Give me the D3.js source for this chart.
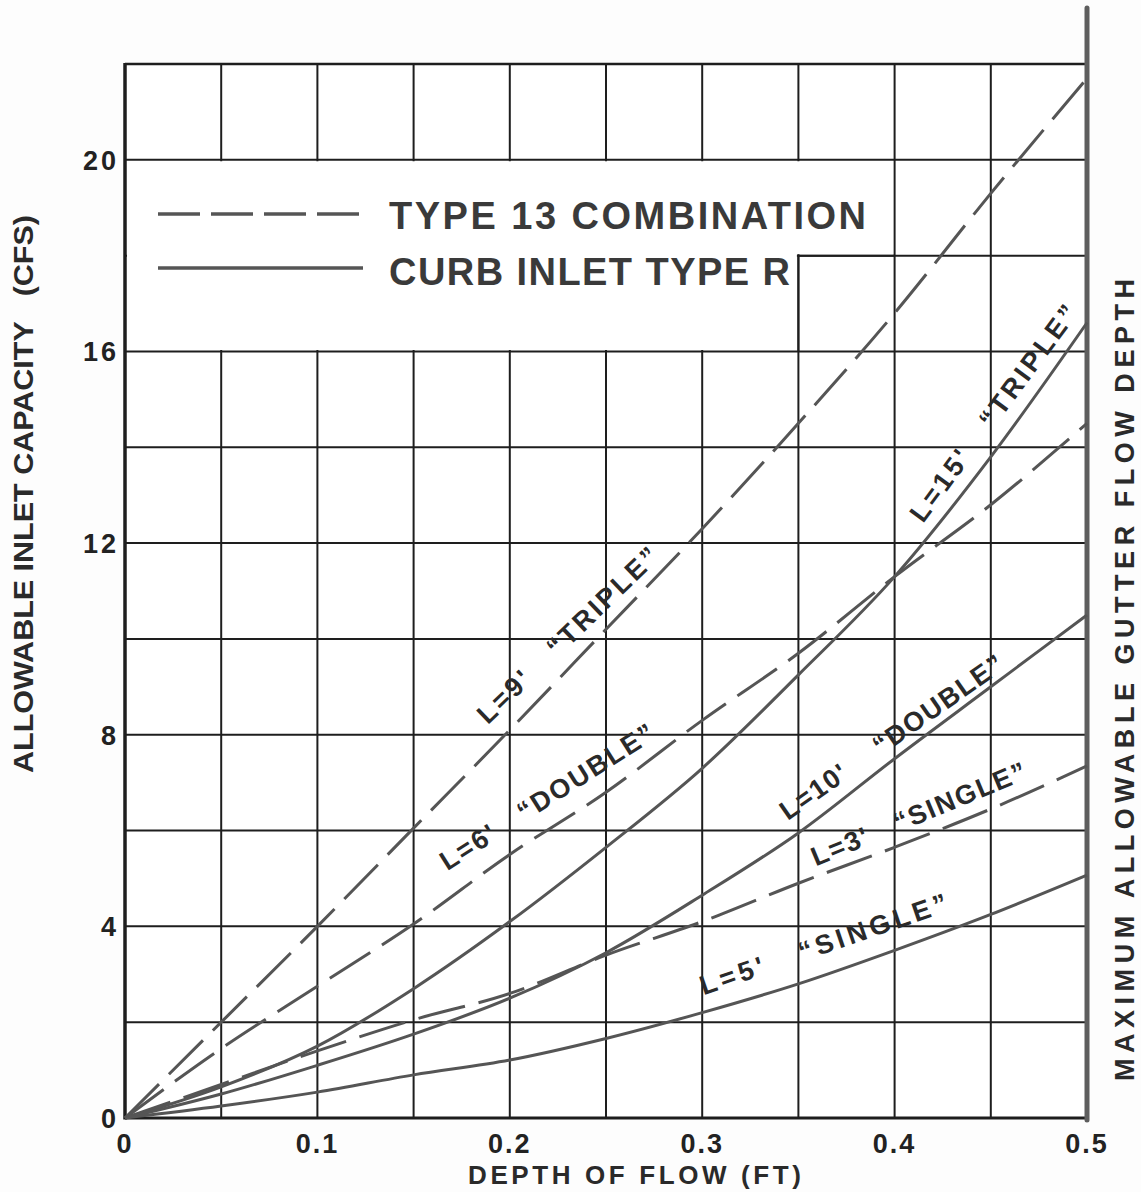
<!DOCTYPE html>
<html>
<head>
<meta charset="utf-8">
<script src="https://cdn.jsdelivr.net/npm/d3@7"></script>
<style>
  html, body { margin: 0; padding: 0; background: #fdfdfd; }
  svg { display: block; }
  text { font-family: "Liberation Sans", Arial, sans-serif; font-weight: bold; white-space: pre; }
</style>
</head>
<body>
<svg id="chart" width="1141" height="1192"></svg>
<script>
// ---- data ----
const depth = [0, 0.05, 0.1, 0.15, 0.2, 0.25, 0.3, 0.35, 0.4, 0.45, 0.5];
const combo9Triple = [0, 2.0, 4.0, 6.05, 8.1, 10.2, 12.3, 14.5, 16.8, 19.3, 21.7];
const combo6Double = [0, 1.45, 2.75, 4.05, 5.5, 6.8, 8.3, 9.7, 11.3, 12.8, 14.5];
const combo3Single = [0, 0.7, 1.4, 2.05, 2.6, 3.4, 4.1, 4.9, 5.65, 6.45, 7.35];
const curb15Triple = [0, 0.65, 1.5, 2.7, 4.1, 5.65, 7.3, 9.25, 11.3, 13.8, 16.6];
const curb10Double = [0, 0.5, 1.1, 1.75, 2.5, 3.45, 4.65, 5.95, 7.5, 9.0, 10.5];
const curb5Single = [0, 0.25, 0.54, 0.9, 1.21, 1.66, 2.2, 2.8, 3.5, 4.25, 5.07];

const xTicks = [0, 0.1, 0.2, 0.3, 0.4, 0.5];
const xTickLabels = ["0", "0.1", "0.2", "0.3", "0.4", "0.5"];
const yTicks = [0, 4, 8, 12, 16, 20];
const yTickLabels = ["0", "4", "8", "12", "16", "20"];
const xGrid = [0.05, 0.1, 0.15, 0.2, 0.25, 0.3, 0.35, 0.4, 0.45];
const yGrid = [2, 4, 6, 8, 10, 12, 14, 16, 18, 20];

const legendLabels = ["TYPE 13 COMBINATION", "CURB INLET TYPE R"];
const xTitle = "DEPTH OF FLOW (FT)";
const yTitle = "ALLOWABLE INLET CAPACITY   (CFS)";
const rightTitle = "MAXIMUM ALLOWABLE GUTTER FLOW DEPTH";

const seriesList = [
  { name: "combo9", values: combo9Triple, dashed: true },
  { name: "combo6", values: combo6Double, dashed: true },
  { name: "combo3", values: combo3Single, dashed: true },
  { name: "curb15", values: curb15Triple, dashed: false },
  { name: "curb10", values: curb10Double, dashed: false },
  { name: "curb5", values: curb5Single, dashed: false }
];

// curve annotations: text, anchor (depth, cfs), angle, length
const curveLabels = [
  { text: "L=9'   \u201CTRIPLE\u201D", d: 0.1885, q: 8.2, angle: -44, len: 240 },
  { text: "L=6'   \u201CDOUBLE\u201D", d: 0.1675, q: 5.15, angle: -32.5, len: 248 },
  { text: "L=10'    \u201CDOUBLE\u201D", d: 0.3445, q: 6.2, angle: -35, len: 266 },
  { text: "L=3'   \u201CSINGLE\u201D", d: 0.359, q: 5.25, angle: -22.5, len: 230 },
  { text: "L=5'   \u201CSINGLE\u201D", d: 0.3007, q: 2.56, angle: -19, len: 260 },
  { text: "L=15'   \u201CTRIPLE\u201D", d: 0.4147, q: 12.4, angle: -53.5, len: 262 }
];

// ---- drawing ----
const svg = d3.select("#chart");
const x = d3.scaleLinear().domain([0, 0.5]).range([125, 1087]);
const y = d3.scaleLinear().domain([0, 22]).range([1118, 64]);

const gridColor = "#1e1e1e";
const curveColor = "#555";

// background plot
svg.append("rect").attr("x", x(0)).attr("y", y(22)).attr("width", x(0.5) - x(0)).attr("height", y(0) - y(22)).attr("fill", "#fff");

// grid
svg.append("g").selectAll("line").data(xGrid).join("line")
  .attr("x1", d => x(d)).attr("x2", d => x(d))
  .attr("y1", y(0)).attr("y2", y(22))
  .attr("stroke", gridColor).attr("stroke-width", 2);
svg.append("g").selectAll("line").data(yGrid).join("line")
  .attr("x1", x(0)).attr("x2", x(0.5))
  .attr("y1", d => y(d)).attr("y2", d => y(d))
  .attr("stroke", gridColor).attr("stroke-width", 2);
// top border
svg.append("line").attr("x1", x(0)).attr("x2", x(0.5)).attr("y1", y(22)).attr("y2", y(22))
  .attr("stroke", gridColor).attr("stroke-width", 2.5);

// legend box (white area without grid)
const lb = [
  [x(0) + 2, y(20) + 1.5], [x(0.4) - 1.5, y(20) + 1.5], [x(0.4) - 1.5, y(18) - 1.5],
  [x(0.35) - 1.5, y(18) - 1.5], [x(0.35) - 1.5, y(16) - 1.5], [x(0) + 2, y(16) - 1.5]
];
svg.append("path").attr("d", "M" + lb.map(p => p.join(",")).join("L") + "Z").attr("fill", "#fff");
svg.append("line").attr("x1", x(0.35)).attr("x2", x(0.4)).attr("y1", y(18)).attr("y2", y(18))
  .attr("stroke", gridColor).attr("stroke-width", 2);
svg.append("line").attr("x1", x(0.35)).attr("x2", x(0.35)).attr("y1", y(18) - 1).attr("y2", y(16))
  .attr("stroke", gridColor).attr("stroke-width", 2);

// axes
svg.append("line").attr("x1", x(0)).attr("x2", x(0)).attr("y1", y(22) - 1).attr("y2", y(0) + 1.5)
  .attr("stroke", gridColor).attr("stroke-width", 3.5);
svg.append("line").attr("x1", x(0)).attr("x2", x(0.5)).attr("y1", y(0)).attr("y2", y(0))
  .attr("stroke", gridColor).attr("stroke-width", 3);
// right boundary (max gutter depth)
svg.append("line").attr("x1", x(0.5)).attr("x2", x(0.5)).attr("y1", 8).attr("y2", y(0) + 2)
  .attr("stroke", "#5e5e5e").attr("stroke-width", 5).attr("stroke-linecap", "round");

// curves
const line = d3.line().x((d, i) => x(depth[i])).y(d => y(d)).curve(d3.curveMonotoneX);
svg.append("g").selectAll("path").data(seriesList).join("path")
  .attr("d", s => line(s.values))
  .attr("fill", "none")
  .attr("stroke", curveColor)
  .attr("stroke-width", 3)
  .attr("stroke-dasharray", s => s.dashed ? "48,14" : null);

// curve labels
svg.append("g").selectAll("text").data(curveLabels).join("text")
  .attr("transform", c => `translate(${x(c.d)},${y(c.q)}) rotate(${c.angle})`)
  .attr("font-size", 27)
  .attr("fill", "#2a2a2a")
  .attr("textLength", c => c.len)
  .attr("lengthAdjust", "spacing")
  .text(c => c.text);

// legend
svg.append("line").attr("x1", 158).attr("x2", 363).attr("y1", 214).attr("y2", 214)
  .attr("stroke", curveColor).attr("stroke-width", 3.5).attr("stroke-dasharray", "42,11");
svg.append("line").attr("x1", 158).attr("x2", 363).attr("y1", 268).attr("y2", 268)
  .attr("stroke", curveColor).attr("stroke-width", 3.5);
svg.append("text").attr("x", 389).attr("y", 229).attr("font-size", 38).attr("fill", "#3a3a3a")
  .attr("textLength", 477).attr("lengthAdjust", "spacing").text(legendLabels[0]);
svg.append("text").attr("x", 389).attr("y", 285).attr("font-size", 38).attr("fill", "#3a3a3a")
  .attr("textLength", 401).attr("lengthAdjust", "spacing").text(legendLabels[1]);

// tick labels
svg.append("g").selectAll("text").data(yTicks).join("text")
  .attr("x", 119).attr("y", d => y(d) + 10)
  .attr("text-anchor", "end").attr("font-size", 27).attr("fill", "#222")
  .attr("letter-spacing", 3)
  .text((d, i) => yTickLabels[i]);
svg.append("g").selectAll("text").data(xTicks).join("text")
  .attr("x", d => x(d)).attr("y", 1153)
  .attr("text-anchor", "middle").attr("font-size", 27).attr("fill", "#222")
  .attr("letter-spacing", 2)
  .text((d, i) => xTickLabels[i]);

// axis titles
svg.append("text").attr("x", 468).attr("y", 1184).attr("font-size", 26).attr("fill", "#2a2a2a")
  .attr("textLength", 333).attr("lengthAdjust", "spacing").text(xTitle);
svg.append("text").attr("transform", "translate(33,773) rotate(-90)")
  .attr("font-size", 28).attr("fill", "#2a2a2a")
  .attr("textLength", 558).attr("lengthAdjust", "spacingAndGlyphs").text(yTitle);
svg.append("text").attr("transform", "translate(1134,1081) rotate(-90)")
  .attr("font-size", 27).attr("fill", "#2a2a2a")
  .attr("textLength", 802).attr("lengthAdjust", "spacing").text(rightTitle);
</script>
</body>
</html>
